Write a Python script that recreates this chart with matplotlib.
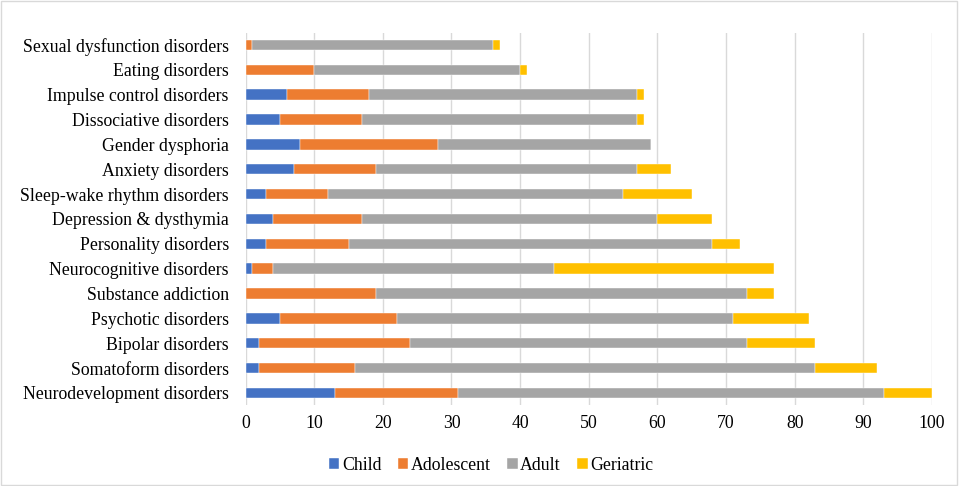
import numpy as np
import matplotlib.pyplot as plt
from matplotlib.patches import Rectangle

plt.rcParams['font.family'] = ['Liberation Serif', 'DejaVu Serif']

# bottom to top
categories = ['Neurodevelopment disorders', 'Somatoform disorders', 'Bipolar disorders',
              'Psychotic disorders', 'Substance addiction', 'Neurocognitive disorders',
              'Personality disorders', 'Depression & dysthymia', 'Sleep-wake rhythm disorders',
              'Anxiety disorders', 'Gender dysphoria', 'Dissociative disorders',
              'Impulse control disorders', 'Eating disorders', 'Sexual dysfunction disorders']
child = [13, 2, 2, 5, 0, 1, 3, 4, 3, 7, 8, 5, 6, 0, 0]
adolescent = [18, 14, 22, 17, 19, 3, 12, 13, 9, 12, 20, 12, 12, 10, 1]
adult = [62, 67, 49, 49, 54, 41, 53, 43, 43, 38, 31, 40, 39, 30, 35]
geriatric = [7, 9, 10, 11, 4, 32, 4, 8, 10, 5, 0, 1, 1, 1, 1]

series = [('Child', child, '#4472C4'), ('Adolescent', adolescent, '#ED7D31'),
          ('Adult', adult, '#A5A5A5'), ('Geriatric', geriatric, '#FFC000')]

fig = plt.figure(figsize=(9.59, 4.86), dpi=100, facecolor='white')
ax = fig.add_axes([0.256, 0.166, 0.716, 0.767])

y = np.arange(len(categories))
left = np.zeros(len(categories))
for name, vals, col in series:
    vals = np.array(vals, dtype=float)
    ax.barh(y, vals, left=left, height=0.42, color=col, label=name, zorder=3,
            edgecolor='white', linewidth=0.3)
    left += vals

ax.set_xlim(0, 100)
ax.set_ylim(-0.5, len(categories) - 0.5)
ax.set_xticks(np.arange(0, 101, 10))
ax.set_yticks(y)
ax.set_yticklabels(categories, fontsize=12.8)
ax.tick_params(axis='x', labelsize=12.8, length=0, pad=7)
ax.tick_params(axis='y', length=0, pad=12)
ax.grid(axis='x', color='#D9D9D9', linewidth=1, zorder=0)
for s in ax.spines.values():
    s.set_visible(False)

ax.legend(loc='center', bbox_to_anchor=(0.512, 0.043), bbox_transform=fig.transFigure,
          ncol=4, frameon=False, fontsize=12.8, handlelength=0.6, handleheight=0.6,
          handletextpad=0.15, columnspacing=0.9)

fig.patches.append(Rectangle((0.001, 0.002), 0.997, 0.995, transform=fig.transFigure,
                             fill=False, edgecolor='#D9D9D9', linewidth=1))

fig.savefig('out.png', dpi=100)
